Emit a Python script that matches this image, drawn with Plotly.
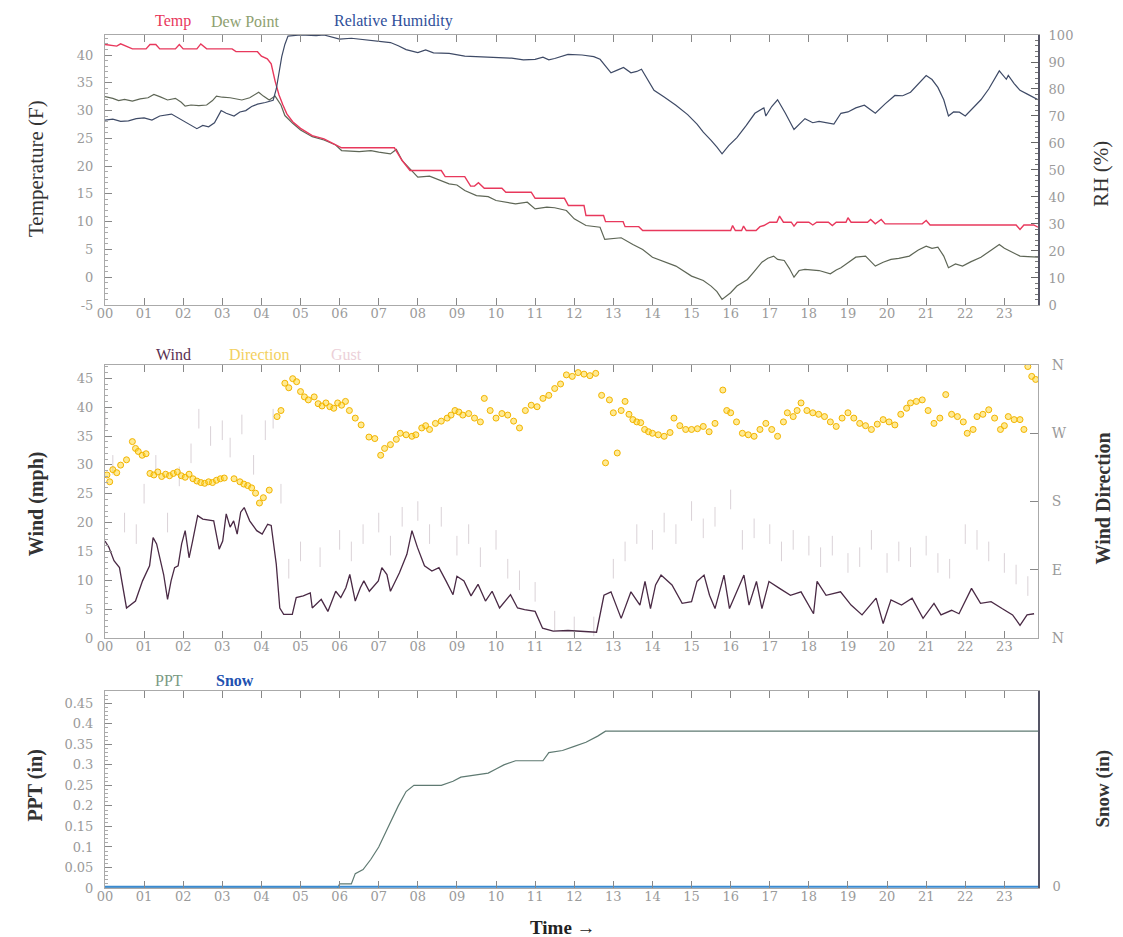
import plotly.graph_objects as go

# ---------------- DATA ----------------
hour_labels = ["%02d" % h for h in range(24)]

temp_hours = [0.0,0.3,0.4,0.55,0.7,1.05,1.15,1.3,1.4,1.8,1.9,2.0,2.35,2.45,2.6,3.25,3.35,3.9,4.0,4.15,4.25,4.35,4.45,4.55,4.65,4.8,5.0,5.3,5.6,5.9,6.05,7.4,7.6,7.8,8.6,8.7,9.2,9.35,9.45,9.55,9.7,10.15,10.25,10.9,11.0,11.75,11.85,12.25,12.3,12.75,12.8,13.25,13.3,13.65,13.75,16.0,16.05,16.12,16.28,16.33,16.4,16.65,16.75,16.85,17.0,17.18,17.25,17.35,17.55,17.62,17.7,18.0,18.1,18.2,18.5,18.6,18.7,18.95,19.0,19.08,19.5,19.58,19.7,19.85,19.95,20.9,21.0,21.1,23.3,23.4,23.5,23.75,23.86]
temp_vals = [41.9,41.6,42.0,41.6,41.1,41.1,41.9,41.9,41.1,41.1,41.9,41.1,41.1,42.0,41.1,41.1,40.6,40.6,39.8,39.3,38.4,35.3,32.8,31.0,29.4,28.0,26.8,25.5,24.9,23.8,23.3,23.3,21.0,19.2,19.2,18.1,18.1,16.4,16.4,17.0,16.0,16.0,15.3,15.3,14.2,14.2,12.9,12.9,11.1,11.1,10.0,10.0,9.1,9.1,8.4,8.4,9.3,8.4,8.4,9.2,8.4,8.4,9.1,9.3,9.9,9.9,11.0,9.9,9.9,9.2,9.9,9.9,9.4,9.9,9.9,9.3,9.9,9.9,10.7,9.9,9.9,10.4,9.6,10.4,9.6,9.6,10.2,9.4,9.4,8.6,9.4,9.4,9.0]

dew_hours = [0.0,0.2,0.35,0.5,0.7,0.9,1.1,1.25,1.4,1.6,1.8,1.95,2.05,2.2,2.4,2.6,2.75,2.85,3.0,3.2,3.5,3.7,3.93,4.05,4.2,4.35,4.5,4.6,4.8,5.0,5.3,5.6,5.9,6.05,6.5,6.8,7.0,7.3,7.45,7.6,7.8,8.0,8.3,8.5,8.8,9.0,9.2,9.5,9.8,10.0,10.3,10.5,10.8,11.0,11.3,11.5,11.8,12.0,12.3,12.66,12.78,13.0,13.2,13.5,13.75,14.0,14.3,14.6,15.0,15.3,15.5,15.65,15.78,16.0,16.16,16.43,16.6,16.8,16.95,17.1,17.2,17.37,17.5,17.62,17.75,17.9,18.26,18.55,18.7,18.82,19.0,19.2,19.45,19.7,19.9,20.1,20.3,20.57,20.8,21.0,21.15,21.3,21.45,21.57,21.75,21.93,22.15,22.4,22.65,22.87,23.0,23.14,23.25,23.4,23.6,23.86]
dew_vals = [32.5,32.2,31.8,32.0,31.7,32.1,32.3,32.9,32.5,31.9,32.2,31.5,30.8,31.0,30.9,31.0,31.8,32.6,32.4,32.3,31.9,32.3,33.3,32.6,31.9,32.6,31.0,29.1,27.7,26.5,25.3,24.7,23.8,22.8,22.6,22.8,22.5,22.2,23.0,21.0,19.5,18.0,18.2,17.6,16.8,16.6,15.6,14.7,14.5,13.8,13.5,13.2,13.5,12.3,12.6,12.5,12.0,10.5,9.3,9.0,6.8,7.0,7.1,5.9,5.0,3.6,2.8,2.0,0.2,-0.6,-1.6,-2.6,-4.0,-2.8,-1.6,-0.4,1.0,2.7,3.4,3.8,3.2,3.0,1.6,0.0,1.2,1.4,1.2,0.6,1.3,1.7,2.6,3.6,3.8,2.0,2.7,3.2,3.4,3.8,4.9,5.6,5.2,5.4,3.8,1.7,2.4,2.0,2.8,3.6,4.8,5.9,5.2,4.7,4.2,3.8,3.7,3.6]

rh_hours = [0.0,0.2,0.4,0.6,0.8,1.0,1.2,1.4,1.7,1.85,2.0,2.2,2.35,2.5,2.65,2.8,2.97,3.1,3.3,3.45,3.6,3.75,3.9,4.1,4.3,4.38,4.45,4.52,4.6,4.68,5.0,5.4,5.6,6.0,6.3,6.6,7.0,7.3,7.5,7.7,8.0,8.2,8.4,8.8,9.2,9.6,10.0,10.4,10.7,11.0,11.2,11.35,11.5,11.84,12.2,12.5,12.66,12.94,13.1,13.26,13.45,13.6,13.72,13.85,14.04,14.3,14.6,14.9,15.14,15.3,15.37,15.5,15.65,15.78,15.95,16.16,16.4,16.62,16.85,16.9,17.05,17.2,17.4,17.62,17.9,18.1,18.26,18.45,18.64,18.82,19.0,19.2,19.42,19.7,19.95,20.2,20.4,20.6,20.8,21.0,21.15,21.3,21.45,21.57,21.7,21.85,22.0,22.2,22.4,22.6,22.87,23.05,23.1,23.25,23.4,23.6,23.86]
rh_vals = [68.5,68.8,68.0,68.2,69.0,69.3,68.5,70.0,70.7,69.5,68.0,66.5,65.3,66.5,66.0,67.5,72.0,71.0,70.0,71.5,72.0,73.5,74.4,75.0,75.8,80.0,86.0,92.0,96.5,99.6,100.0,99.8,100.0,98.5,98.8,98.3,97.8,97.2,96.0,94.6,93.5,94.5,93.4,93.2,92.2,92.0,91.7,91.4,90.8,91.0,91.8,90.8,91.3,92.8,92.6,92.0,91.0,86.0,87.0,88.0,86.0,86.5,87.3,84.0,79.5,77.0,74.0,70.5,67.0,64.0,63.0,61.0,58.5,56.0,59.0,62.0,66.5,71.0,73.0,70.0,73.5,76.0,71.0,65.0,69.0,67.5,68.0,67.5,67.0,71.0,71.5,73.0,74.0,71.0,74.5,77.6,77.5,78.8,82.0,85.0,83.5,80.6,76.0,70.0,71.5,71.4,70.0,73.0,76.0,80.0,86.7,83.6,85.0,82.0,79.5,78.0,76.0]

wind_hours = [0.0,0.1,0.23,0.37,0.55,0.68,0.78,0.96,1.14,1.23,1.32,1.5,1.6,1.69,1.78,1.87,1.96,2.05,2.15,2.24,2.37,2.5,2.78,2.92,3.01,3.1,3.2,3.29,3.38,3.47,3.56,3.7,3.88,4.02,4.16,4.25,4.38,4.47,4.57,4.79,4.89,5.07,5.25,5.3,5.53,5.7,5.9,6.03,6.16,6.26,6.4,6.53,6.62,6.76,6.99,7.08,7.21,7.3,7.44,7.53,7.72,7.85,7.99,8.17,8.36,8.54,8.72,8.9,9.0,9.18,9.36,9.54,9.73,9.9,10.09,10.37,10.55,10.73,11.0,11.19,11.46,11.84,12.57,12.67,12.76,12.94,13.2,13.45,13.68,13.81,13.95,14.08,14.22,14.5,14.76,15.0,15.14,15.32,15.46,15.6,15.83,15.97,16.15,16.34,16.47,16.66,16.8,16.98,17.25,17.53,17.8,18.12,18.21,18.44,18.81,19.08,19.36,19.72,19.9,20.1,20.37,20.64,20.92,21.2,21.38,21.65,21.84,22.16,22.39,22.66,22.94,23.21,23.4,23.58,23.76]
wind_vals = [16.8,15.7,13.4,12.2,5.2,5.8,6.4,9.9,12.5,17.4,16.3,11.0,6.7,9.9,12.2,12.5,16.3,18.6,13.9,16.8,21.2,20.6,20.3,15.4,16.8,21.5,19.2,20.3,18.0,21.8,22.6,20.3,18.6,18.0,19.7,19.5,12.8,5.2,4.1,4.1,7.0,7.3,7.8,5.2,6.7,4.6,8.1,7.0,8.7,11.0,6.4,8.7,9.9,8.1,9.9,12.2,11.0,8.1,9.9,11.3,14.5,18.6,15.7,12.5,11.6,12.2,9.9,7.5,10.7,9.9,7.3,9.3,6.4,8.1,5.2,7.5,5.2,4.9,4.6,1.7,1.2,1.3,1.0,4.2,7.4,8.0,3.4,8.0,5.7,9.8,5.1,9.2,10.9,9.2,6.0,6.3,9.8,10.9,7.4,5.1,10.9,5.1,8.0,10.9,5.7,9.8,5.1,9.8,8.6,7.4,8.0,4.2,9.8,7.4,8.0,5.7,4.0,6.9,2.5,6.6,5.7,6.9,3.4,6.0,4.0,4.8,4.2,8.6,6.0,6.3,5.1,4.0,2.2,4.0,4.2]

gust_hours = [0.0,0.2,0.5,0.8,1.0,1.3,1.6,1.9,2.2,2.4,2.7,3.0,3.2,3.5,3.8,4.1,4.3,4.5,4.7,5.0,5.5,6.0,6.3,6.6,7.0,7.3,7.6,8.0,8.3,8.6,9.0,9.3,9.6,10.0,10.3,10.6,11.0,11.5,12.0,12.5,13.0,13.3,13.6,14.0,14.3,14.6,15.0,15.3,15.6,16.0,16.3,16.6,17.0,17.3,17.6,18.0,18.3,18.6,19.0,19.3,19.6,20.0,20.3,20.6,21.0,21.3,21.6,22.0,22.3,22.6,23.0,23.3,23.6]
gust_vals = [38,30,20,18,25,30,20,28,32,38,35,36,33,37,30,36,38,25,12,15,14,17,15,18,20,16,21,22,18,21,16,18,14,17,12,10,8,3,2,2,12,15,18,17,20,18,22,19,21,24,17,19,18,15,17,16,14,16,13,14,17,13,15,14,16,13,12,18,17,15,13,11,9]

dir_hours = [0.05,0.12,0.2,0.3,0.4,0.55,0.7,0.78,0.85,0.95,1.05,1.15,1.25,1.35,1.45,1.55,1.65,1.75,1.85,1.95,2.05,2.15,2.25,2.35,2.45,2.55,2.65,2.75,2.85,2.95,3.05,3.3,3.45,3.55,3.65,3.75,3.85,3.95,4.05,4.2,4.4,4.5,4.6,4.7,4.8,4.9,5.0,5.1,5.2,5.35,5.45,5.55,5.65,5.75,5.85,5.95,6.05,6.15,6.25,6.4,6.55,6.75,6.9,7.05,7.15,7.3,7.45,7.55,7.7,7.85,7.95,8.1,8.2,8.3,8.45,8.6,8.75,8.85,8.95,9.05,9.15,9.3,9.45,9.6,9.7,9.85,10.0,10.15,10.3,10.45,10.6,10.75,10.9,11.05,11.2,11.35,11.5,11.65,11.8,11.95,12.1,12.25,12.4,12.55,12.7,12.8,12.9,13.0,13.1,13.2,13.3,13.4,13.5,13.6,13.7,13.8,13.9,14.0,14.15,14.3,14.45,14.55,14.7,14.85,15.0,15.15,15.3,15.45,15.6,15.8,15.9,16.0,16.15,16.3,16.45,16.6,16.75,16.9,17.05,17.2,17.35,17.45,17.6,17.7,17.8,17.95,18.1,18.25,18.4,18.55,18.7,18.85,19.0,19.15,19.3,19.45,19.6,19.75,19.9,20.05,20.2,20.35,20.5,20.6,20.75,20.9,21.05,21.2,21.35,21.5,21.65,21.8,21.95,22.05,22.2,22.3,22.45,22.6,22.75,22.9,23.0,23.1,23.25,23.4,23.5,23.6,23.7,23.8]
dir_vals = [215,206,222,218,228,235,259,250,246,241,243,217,215,219,213,216,214,217,219,214,212,216,210,207,205,204,206,205,208,210,211,210,206,203,201,198,191,178,185,195,292,300,336,330,342,338,325,318,314,318,309,306,310,305,303,310,307,312,300,290,281,265,263,241,250,255,262,270,268,266,268,277,280,275,283,286,290,294,300,298,294,296,290,285,316,300,290,296,294,286,277,300,307,305,316,320,329,335,347,345,350,348,346,349,320,231,314,297,244,300,312,295,288,285,284,275,272,270,268,266,271,290,280,275,275,276,279,272,283,327,300,297,285,270,268,266,275,283,275,266,285,297,292,300,310,300,297,295,292,285,279,290,297,290,283,280,275,282,288,285,281,295,303,310,312,314,300,283,290,321,295,292,285,270,275,292,295,301,290,275,280,292,288,288,275,358,345,341]

ppt_hours = [0.0,5.95,6.0,6.3,6.4,6.6,6.8,7.0,7.2,7.4,7.5,7.7,7.9,8.6,8.9,9.1,9.5,9.8,10.0,10.2,10.5,11.2,11.35,11.7,12.0,12.3,12.6,12.8,23.86]
ppt_vals = [0.0,0.0,0.01,0.01,0.035,0.045,0.07,0.10,0.14,0.18,0.20,0.235,0.25,0.25,0.26,0.27,0.275,0.28,0.29,0.30,0.31,0.31,0.33,0.335,0.345,0.355,0.37,0.382,0.382]

snow_hours = [0.0, 23.86]
snow_vals = [0.0, 0.0]

# ---------------- FIGURE ----------------
SERIF = "Liberation Serif, DejaVu Serif, serif"
TICKFONT = dict(family="DejaVu Serif, serif", size=13, color="#9a9a9a")

fig = go.Figure()
fig.add_trace(go.Scatter(x=rh_hours, y=rh_vals, xaxis="x", yaxis="y2", mode="lines",
                         line=dict(color="#3e4a66", width=1.2), name="Relative Humidity"))
fig.add_trace(go.Scatter(x=dew_hours, y=dew_vals, xaxis="x", yaxis="y", mode="lines",
                         line=dict(color="#5e6656", width=1.2), name="Dew Point"))
fig.add_trace(go.Scatter(x=temp_hours, y=temp_vals, xaxis="x", yaxis="y", mode="lines",
                         line=dict(color="#e8385c", width=1.4), name="Temp"))

fig.add_trace(go.Scatter(x=gust_hours, y=gust_vals, xaxis="x2", yaxis="y3", mode="markers",
                         marker=dict(symbol="line-ns-open", size=14,
                                     color="rgba(150,125,140,0.35)",
                                     line=dict(color="rgba(150,125,140,0.35)", width=1)),
                         name="Gust"))
fig.add_trace(go.Scatter(x=dir_hours, y=dir_vals, xaxis="x2", yaxis="y4", mode="markers",
                         marker=dict(symbol="circle", size=6, color="rgba(255,214,40,0.5)",
                                     line=dict(color="#f2b400", width=1)), name="Direction"))
fig.add_trace(go.Scatter(x=wind_hours, y=wind_vals, xaxis="x2", yaxis="y3", mode="lines",
                         line=dict(color="#4a2a45", width=1.3), name="Wind"))

fig.add_trace(go.Scatter(x=ppt_hours, y=ppt_vals, xaxis="x3", yaxis="y5", mode="lines",
                         line=dict(color="#5f7a72", width=1.2), name="PPT"))
fig.add_trace(go.Scatter(x=snow_hours, y=snow_vals, xaxis="x3", yaxis="y6", mode="lines",
                         line=dict(color="#3a8ad0", width=2), name="Snow"))

XR = [0, 23.86]
def xax(anchor):
    return dict(domain=[0, 1], anchor=anchor, range=XR, tickmode="array",
                tickvals=list(range(24)), ticktext=hour_labels, ticks="inside",
                ticklen=7, tickcolor="#888", showline=True, linecolor="#aaa",
                linewidth=1, mirror="ticks", showgrid=False, zeroline=False,
                tickfont=TICKFONT, ticklabelstandoff=-4)

def yleft(domain, rng, minor_dtick, anchor, tickvals, ticktext=None):
    return dict(domain=domain, anchor=anchor, range=rng, ticks="inside", ticklen=7,
                tickcolor="#888", showline=True, linecolor="#aaa", showgrid=False,
                zeroline=False, tickfont=TICKFONT, ticklabelstandoff=8,
                tickmode="array", tickvals=tickvals,
                ticktext=ticktext if ticktext else [str(v) for v in tickvals],
                minor=dict(ticks="inside", ticklen=3, dtick=minor_dtick, tickcolor="#aaa"))

top_dom = [0.6835, 1.0]
mid_dom = [0.2931, 0.6131]
bot_dom = [0.0, 0.231]

temp_ticks = list(range(-5, 45, 5))
wind_ticks = list(range(0, 50, 5))
ppt_ticks = [round(0.05 * i, 2) for i in range(10)]
ppt_text = ["0", "0.05", "0.1", "0.15", "0.2", "0.25", "0.3", "0.35", "0.4", "0.45"]

fig.update_layout(
    width=1123, height=937,
    margin=dict(l=97, r=93, t=27, b=57),
    paper_bgcolor="white", plot_bgcolor="white",
    showlegend=False,
    xaxis=xax("y"),
    xaxis2=xax("y3"),
    xaxis3=xax("y5"),
    yaxis=yleft(top_dom, [-5, 43.6], 1, "x", temp_ticks),
    yaxis2=dict(overlaying="y", side="right", anchor="x", range=[0, 100], dtick=10, tick0=0,
                ticks="inside", ticklen=7, tickcolor="#666", showline=True,
                linecolor="#556", linewidth=2, showgrid=False, zeroline=False,
                tickfont=TICKFONT, ticklabelstandoff=6,
                minor=dict(ticks="inside", ticklen=3, dtick=2, tickcolor="#777")),
    yaxis3=yleft(mid_dom, [0, 47.3], 1, "x2", wind_ticks),
    yaxis4=dict(overlaying="y3", side="right", anchor="x2", range=[0, 360],
                tickmode="array", tickvals=[0, 90, 180, 270, 360],
                ticktext=["N", "E", "S", "W", "N"], ticks="inside", ticklen=8,
                tickcolor="#888", showline=True, linecolor="#aaa", showgrid=False,
                zeroline=False, ticklabelstandoff=10,
                tickfont=dict(family="DejaVu Serif, serif", size=14, color="#9a9a9a")),
    yaxis5=yleft(bot_dom, [0, 0.48], 0.01, "x3", ppt_ticks, ppt_text),
    yaxis6=dict(overlaying="y5", side="right", anchor="x3", range=[-0.006, 1],
                tickmode="array", tickvals=[0], ticktext=["0"], ticks="",
                showline=True, linecolor="#556", linewidth=2, showgrid=False,
                zeroline=False, tickfont=TICKFONT, ticklabelstandoff=10),
)

ann = []
def A(text, x, y, size, color, angle=0, bold=False, family=SERIF):
    t = "<b>%s</b>" % text if bold else text
    ann.append(dict(text=t, x=x, y=y, xref="paper", yref="paper", showarrow=False,
                    textangle=angle, font=dict(family=family, size=size, color=color),
                    xanchor="center", yanchor="middle"))

# legends
A("Temp", 0.0729, 1.0164, 16, "#e8385c")
A("Dew Point", 0.151, 1.0164, 16, "#8ea070")
A("Relative Humidity", 0.309, 1.0164, 16, "#2f4f9a")
A("Wind", 0.073, 0.625, 16, "#5a2f52")
A("Direction", 0.165, 0.625, 16, "#f3d060")
A("Gust", 0.259, 0.625, 16, "#ecd0d8")
A("PPT", 0.0686, 0.2427, 16, "#7a9a84")
A("Snow", 0.139, 0.2427, 16, "#2050b0", bold=True)

# axis titles
A("Temperature (F)", -0.074, 0.844, 21, "#333", angle=-90)
A("RH (%)", 1.068, 0.838, 21, "#333", angle=-90)
A("Wind (mph)", -0.074, 0.451, 20, "#333", angle=-90, bold=True)
A("Wind Direction", 1.07, 0.457, 20, "#333", angle=-90, bold=True)
A("PPT (in)", -0.074, 0.120, 20, "#333", angle=-90, bold=True)
A("Snow (in)", 1.07, 0.117, 19, "#333", angle=-90, bold=True)
A("Time \u2192", 0.491, -0.046, 19, "#222", bold=True)

fig.update_layout(annotations=ann)
fig.write_html("out.html")
